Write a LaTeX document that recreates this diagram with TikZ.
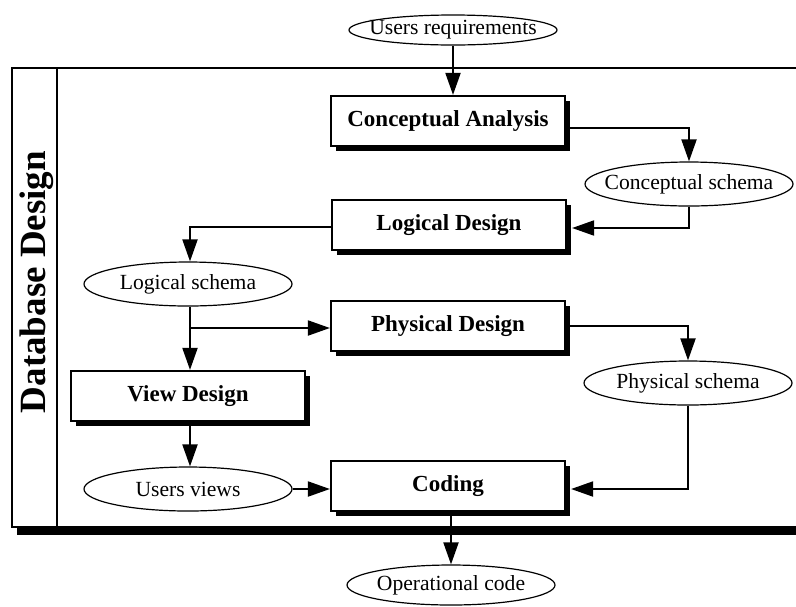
\documentclass[tikz,border=0pt]{standalone}
\usepackage{fontspec}
\setmainfont{Liberation Serif}
\usepackage{tikz}
\usetikzlibrary{arrows.meta}
\usetikzlibrary{shapes.geometric,shadows}

\tikzset{
  stagebox/.style={draw, line width=1.1pt, fill=white, minimum width=117pt, minimum height=25pt,
    font=\fontsize{11.5}{13}\selectfont\bfseries,
    general shadow={fill=black, shadow xshift=2.5pt, shadow yshift=-2.5pt}},
  schema/.style={draw, ellipse, line width=0.6pt, fill=white, inner xsep=-5.5pt, inner ysep=0pt,
    minimum width=104pt, minimum height=22pt, font=\fontsize{10.8}{12}\selectfont},
  flow/.style={line width=1pt, -{Triangle[length=11pt,width=7.5pt]}}
}

\begin{document}
\begin{tikzpicture}[x=0.5pt, y=-0.5pt]
        \useasboundingbox (0,0) rectangle (796,606);
        \clip (0,0) rectangle (796,606);
        % Draw the design frame
        \draw[line width=1pt, fill=white,
          general shadow={fill=black, shadow xshift=2.5pt, shadow yshift=-4pt}]
          (12,68) rectangle (830,527);
        \draw[line width=1pt] (57,68) -- (57,527);
        \node[rotate=90, font=\fontsize{18.5}{20}\selectfont\bfseries] (title) at (37,282) {Database Design};
        % Define stages
        \node[stagebox] (ca) at (448,121) {Conceptual Analysis};
        \node[stagebox] (ld) at (449,225) {Logical Design};
        \node[stagebox] (pd) at (448,326) {Physical Design};
        \node[stagebox] (vd) at (188,396) {View Design};
        \node[stagebox] (cd) at (448,486) {Coding};
        % Add schemas
        \node[schema, minimum height=15pt] (ureq) at (453,30) {Users requirements};
        \node[schema] (cs) at (689,184) {Conceptual schema};
        \node[schema] (ls) at (188,284) {Logical schema};
        \node[schema] (ps) at (688,383) {Physical schema};
        \node[schema] (uv) at (188,489) {Users views};
        \node[schema, minimum height=20pt] (oc) at (451,585) {Operational code};
        % Connect them
        \draw[flow] (ureq.south) -- (ureq.south |- ca.north);
        \draw[flow] ([yshift=-3.5pt]ca.east) -| (cs.north);
        \draw[flow] (cs.south) |- ([xshift=2.5pt, yshift=-1.5pt]ld.east);
        \draw[flow] ([yshift=-1pt]ld.west) -| ([xshift=1pt]ls.north);
        \draw[flow] ([xshift=1pt]ls.south) -- ([xshift=1pt]vd.north);
        \draw[flow] ([xshift=1pt]ls.south |- pd.west) ++(0,2) -- ([yshift=-1pt]pd.west);
        \draw[flow] ([xshift=1pt]vd.south) -- ([xshift=1pt]uv.north);
        \draw[flow] (uv.east) -- (uv.east -| cd.west);
        \draw[flow] (pd.east) -| (ps.north);
        \draw[flow] (ps.south) |- ([xshift=2.5pt, yshift=-1.5pt]cd.east);
        \draw[flow] (oc.north |- cd.south) -- (oc.north);
      \end{tikzpicture}
\end{document}
